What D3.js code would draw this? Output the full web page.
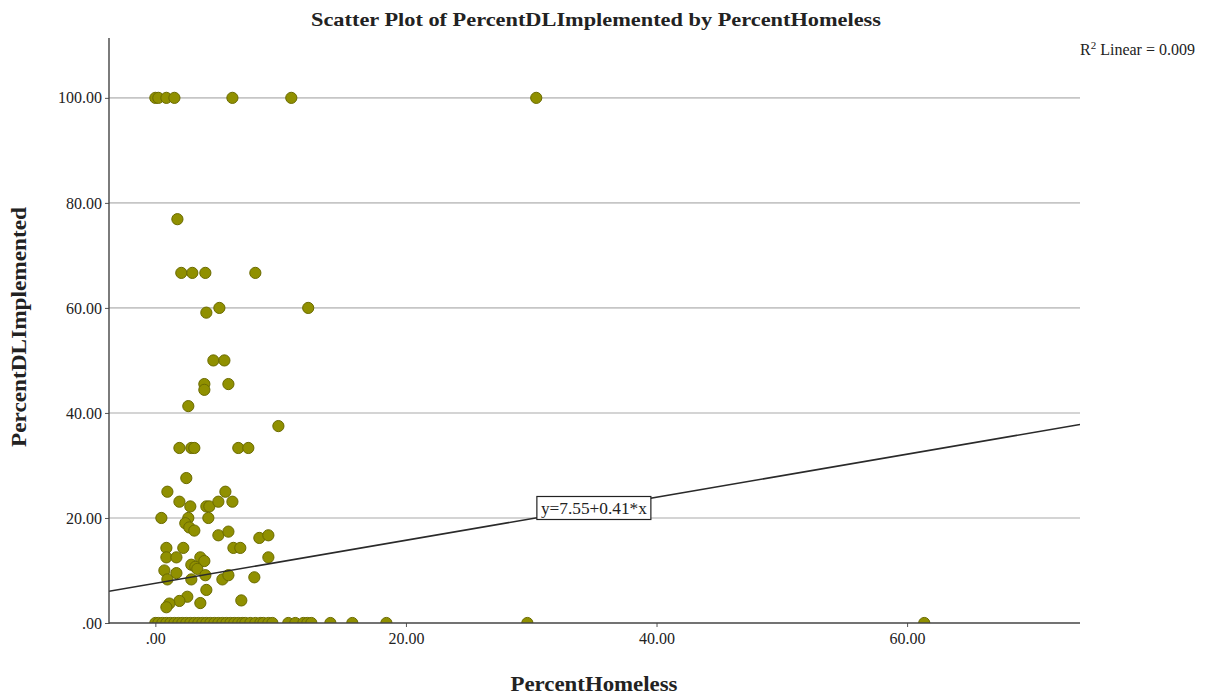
<!DOCTYPE html>
<html>
<head>
<meta charset="utf-8">
<script src="https://cdn.jsdelivr.net/npm/d3@7"></script>
<style>
  html, body { margin: 0; padding: 0; background: #fff; }
  svg { display: block; }
  text { font-family: "Liberation Serif", "DejaVu Serif", serif; fill: #222; }
</style>
</head>
<body>
<svg id="chart" width="1212" height="696"></svg>
<script>
// Observed cases: PercentHomeless (x) and PercentDLImplemented (y)
const percentHomeless = [
  0.0, 0.24, 0.88, 1.52, 6.15, 10.85, 30.4,
  1.76,
  2.07, 2.95, 3.99, 7.98,
  4.07, 5.11, 12.2,
  4.63, 5.51,
  3.91, 3.91, 5.83,
  2.63,
  9.82,
  1.92, 2.87, 3.11, 6.62, 7.42,
  2.47,
  0.96, 5.59,
  1.92, 2.79, 4.07, 4.31, 5.03, 6.15,
  0.48, 2.63, 4.23, 2.39, 2.71, 3.11,
  5.03, 5.83,
  6.23, 6.78,
  8.30, 9.02,
  0.88, 0.88, 1.68, 2.23, 3.59, 3.91,
  2.87, 3.19, 3.35,
  9.02,
  0.72, 1.68, 0.96, 2.87, 3.99, 5.35, 5.83, 7.90,
  4.07, 2.55, 1.92, 1.12, 0.88, 6.86, 3.59,
  // cases with no implementation
  0.0, 0.24, 0.56, 0.88, 1.20, 1.52, 1.84, 2.15, 2.47, 2.79,
  3.11, 3.43, 3.75, 4.07, 4.39, 4.71, 5.03, 5.35, 5.67, 5.99,
  6.30, 6.62, 6.94, 7.18, 7.58, 7.98, 8.38, 8.62, 9.02, 9.34,
  10.61, 11.17, 11.81, 12.13, 12.45, 13.97, 15.72, 18.44, 29.69, 61.37
];
const percentDLImplemented = [
  100, 100, 100, 100, 100, 100, 100,
  76.9,
  66.67, 66.67, 66.67, 66.67,
  59.1, 60, 60,
  50, 50,
  45.5, 44.4, 45.5,
  41.3,
  37.5,
  33.33, 33.33, 33.33, 33.33, 33.33,
  27.6,
  25, 25,
  23.1, 22.2, 22.2, 22.2, 23.1, 23.1,
  20, 20, 20, 19, 18.2, 17.6,
  16.7, 17.4,
  14.3, 14.3,
  16.2, 16.7,
  14.3, 12.5, 12.5, 14.3, 12.5, 11.8,
  11.1, 10.7, 10.3,
  12.5,
  10, 9.5, 8.3, 8.3, 9.1, 8.3, 9.1, 8.7,
  6.3, 5, 4.2, 3.7, 3, 4.3, 3.8,
  0, 0, 0, 0, 0, 0, 0, 0, 0, 0,
  0, 0, 0, 0, 0, 0, 0, 0, 0, 0,
  0, 0, 0, 0, 0, 0, 0, 0, 0, 0,
  0, 0, 0, 0, 0, 0, 0, 0, 0, 0
];

const xTicks = [0, 20, 40, 60];
const xTickLabels = [".00", "20.00", "40.00", "60.00"];
const yTicks = [0, 20, 40, 60, 80, 100];
const yTickLabels = [".00", "20.00", "40.00", "60.00", "80.00", "100.00"];

// Linear fit
const fitIntercept = 7.55;
const fitSlope = 0.41;
const fitLabelX = 35;
const rSquared = "0.009";

const titleText = "Scatter Plot of PercentDLImplemented by PercentHomeless";
const xTitle = "PercentHomeless";
const yTitle = "PercentDLImplemented";

const svg = d3.select("#chart");
const plot = { left: 109, right: 1080, top: 38, bottom: 623 };

const x = d3.scaleLinear().domain([-3.7, 73.8]).range([plot.left, plot.right]);
const y = d3.scaleLinear().domain([0, 111.4]).range([plot.bottom, plot.top]);

svg.append("defs").append("clipPath").attr("id", "plotClip")
  .append("rect")
  .attr("x", plot.left).attr("y", plot.top)
  .attr("width", plot.right - plot.left).attr("height", plot.bottom - plot.top);

// Horizontal gridlines
svg.append("g")
  .selectAll("line")
  .data(yTicks.filter(d => d > 0))
  .join("line")
  .attr("x1", plot.left).attr("x2", plot.right)
  .attr("y1", d => y(d)).attr("y2", d => y(d))
  .attr("stroke", "#c6c6c6").attr("stroke-width", 1.6);

// Points
const cases = percentHomeless.map((v, i) => ({ x: v, y: percentDLImplemented[i] }));
svg.append("g").attr("clip-path", "url(#plotClip)")
  .selectAll("circle")
  .data(cases)
  .join("circle")
  .attr("cx", d => x(d.x))
  .attr("cy", d => y(d.y))
  .attr("r", 5.6)
  .attr("fill", "#909000")
  .attr("stroke", "#6b6b00")
  .attr("stroke-width", 1);

// Fit line
const xd = x.domain();
svg.append("line")
  .attr("clip-path", "url(#plotClip)")
  .attr("x1", x(xd[0])).attr("y1", y(fitIntercept + fitSlope * xd[0]))
  .attr("x2", x(xd[1])).attr("y2", y(fitIntercept + fitSlope * xd[1]))
  .attr("stroke", "#2a2a2a").attr("stroke-width", 1.6);

// Fit equation label
const eqG = svg.append("g")
  .attr("transform", `translate(${x(fitLabelX)},${y(fitIntercept + fitSlope * fitLabelX)})`);
eqG.append("rect")
  .attr("x", -57).attr("y", -11.5)
  .attr("width", 114).attr("height", 23)
  .attr("fill", "#fff").attr("stroke", "#222").attr("stroke-width", 1.2);
eqG.append("text")
  .attr("text-anchor", "middle").attr("dy", "0.35em")
  .style("font-size", "16px")
  .attr("textLength", 106).attr("lengthAdjust", "spacingAndGlyphs")
  .text(`y=${fitIntercept}+${fitSlope}*x`);

// Axes
const yAxis = d3.axisLeft(y).tickValues(yTicks).tickSize(4)
  .tickFormat((d, i) => yTickLabels[i]);
const gy = svg.append("g").attr("transform", `translate(${plot.left},0)`).call(yAxis);
gy.select(".domain").remove();
gy.selectAll(".tick line").attr("stroke", "#555");
gy.selectAll(".tick text").attr("x", -7)
  .style("font-family", "'Liberation Serif', serif").style("font-size", "16px").attr("fill", "#222");
svg.append("line")
  .attr("x1", plot.left).attr("x2", plot.left)
  .attr("y1", plot.top).attr("y2", plot.bottom + 1)
  .attr("stroke", "#444").attr("stroke-width", 1.4);

const xAxis = d3.axisBottom(x).tickValues(xTicks).tickSize(4)
  .tickFormat((d, i) => xTickLabels[i]);
const gx = svg.append("g").attr("transform", `translate(0,${plot.bottom})`).call(xAxis);
gx.select(".domain").remove();
gx.selectAll(".tick line").attr("stroke", "#555");
gx.selectAll(".tick text").attr("y", 10)
  .style("font-family", "'Liberation Serif', serif").style("font-size", "16px").attr("fill", "#222");
svg.append("line")
  .attr("x1", plot.left).attr("x2", plot.right)
  .attr("y1", plot.bottom).attr("y2", plot.bottom)
  .attr("stroke", "#444").attr("stroke-width", 1.6);

// Titles
svg.append("text")
  .attr("x", 596).attr("y", 26)
  .attr("text-anchor", "middle")
  .style("font-size", "19px").style("font-weight", "bold")
  .attr("textLength", 570).attr("lengthAdjust", "spacingAndGlyphs")
  .text(titleText);

svg.append("text")
  .attr("x", 594).attr("y", 691)
  .attr("text-anchor", "middle")
  .style("font-size", "21px").style("font-weight", "bold")
  .attr("textLength", 167).attr("lengthAdjust", "spacingAndGlyphs")
  .text(xTitle);

svg.append("text")
  .attr("transform", "translate(26,327) rotate(-90)")
  .attr("text-anchor", "middle")
  .style("font-size", "21px").style("font-weight", "bold")
  .attr("textLength", 240).attr("lengthAdjust", "spacingAndGlyphs")
  .text(yTitle);

// R squared note
const r2 = svg.append("text")
  .attr("x", 1080).attr("y", 55)
  .style("font-size", "16px");
r2.append("tspan").text("R");
r2.append("tspan").attr("dy", -6).style("font-size", "11px").text("2");
r2.append("tspan").attr("dy", 6).text(` Linear = ${rSquared}`);
</script>
</body>
</html>
